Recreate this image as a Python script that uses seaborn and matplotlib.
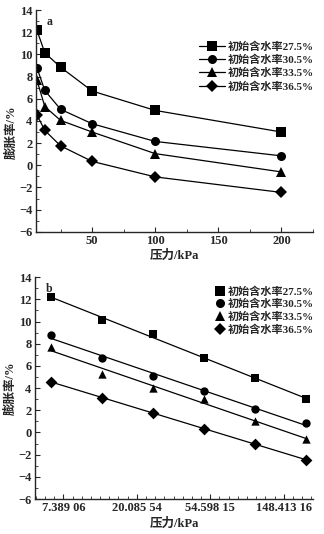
import numpy as np
import pandas as pd
import matplotlib
matplotlib.use("Agg")
import matplotlib.pyplot as plt
import matplotlib.ticker as mticker
from matplotlib.lines import Line2D
import seaborn as sns

pressure = [6.25, 12.5, 25, 50, 100, 200]
series_names = ["初始含水率27.5%", "初始含水率30.5%", "初始含水率33.5%", "初始含水率36.5%"]
swell_275 = [12.2, 10.15, 8.85, 6.7, 4.95, 3.0]
swell_305 = [8.8, 6.75, 5.05, 3.75, 2.15, 0.85]
swell_335 = [7.7, 5.3, 4.05, 3.0, 1.05, -0.6]
swell_365 = [4.55, 3.15, 1.75, 0.35, -1.05, -2.45]
log_ticks = [np.e**2, np.e**3, np.e**4, np.e**5]
log_tick_labels = ["7.389 06", "20.085 54", "54.598 15", "148.413 16"]

values = [swell_275, swell_305, swell_335, swell_365]
df = pd.DataFrame({
    "p": pressure * 4,
    "s": sum(values, []),
    "g": [n for n in series_names for _ in pressure],
})

sns.set_theme(style="ticks")
plt.rcParams["font.family"] = ["Liberation Serif", "Noto Sans CJK SC"]
plt.rcParams["font.weight"] = "bold"
plt.rcParams["axes.labelweight"] = "bold"
plt.rcParams["xtick.direction"] = "in"
plt.rcParams["ytick.direction"] = "in"
plt.rcParams["axes.linewidth"] = 1.0

markers = ["s", "o", "^", "D"]
pal = ["black"] * 4

fig = plt.figure(figsize=(3.24, 5.34), dpi=100)
ax1 = fig.add_axes([0.111, 0.566, 0.855, 0.415])
ax2 = fig.add_axes([0.108, 0.0655, 0.858, 0.4155])

fs = 9
tfs = 9

# Panel a
sns.lineplot(data=df, x="p", y="s", hue="g", style="g", markers=markers,
             dashes=False, palette=pal, ax=ax1, markersize=6.5, linewidth=0.9,
             markeredgewidth=0)
ax1.set_xlim(5.5, 225)
ax1.set_ylim(-6, 14)
ax1.set_xticks([50, 100, 150, 200])
ax1.xaxis.set_minor_locator(mticker.MultipleLocator(25))
ax1.set_yticks(range(-6, 15, 2))
ax1.yaxis.set_minor_locator(mticker.MultipleLocator(1))
ax1.set_xlabel("压力/kPa", fontsize=fs, labelpad=2)
ax1.set_ylabel("膨胀率/%", fontsize=fs)
ax1.yaxis.set_label_coords(-0.068, 0.45)
ax1.text(0.04, 0.975, "a", transform=ax1.transAxes, fontsize=8.5, fontweight="bold", va="top")
leg = ax1.legend(loc="upper right", bbox_to_anchor=(1.02, 0.88), frameon=False,
                 fontsize=8, handlelength=2.3, handletextpad=0.3, labelspacing=0.25,
                 borderaxespad=0)
for t in leg.get_texts():
    t.set_fontweight("bold")

# Panel b
for name, vals, m in zip(series_names, values, markers):
    sns.regplot(x=pressure, y=vals, logx=True, ci=None, ax=ax2, marker=m,
                color="black", scatter_kws={"s": 36, "linewidths": 0, "alpha": 1},
                line_kws={"linewidth": 0.9}, label=name)
ax2.set_xscale("log")
ax2.set_xlim(5.02, 221)
ax2.set_ylim(-6, 14)
ax2.xaxis.set_major_locator(mticker.FixedLocator(log_ticks))
ax2.xaxis.set_major_formatter(mticker.FixedFormatter(log_tick_labels))
minor = [np.exp(1.625 + 0.125 * k) for k in range(0, 32)]
ax2.xaxis.set_minor_locator(mticker.FixedLocator(minor))
ax2.xaxis.set_minor_formatter(mticker.NullFormatter())
ax2.set_yticks(range(-6, 15, 2))
ax2.yaxis.set_minor_locator(mticker.MultipleLocator(1))
ax2.set_xlabel("压力/kPa", fontsize=fs, labelpad=2)
ax2.set_ylabel("膨胀率/%", fontsize=fs)
ax2.yaxis.set_label_coords(-0.065, 0.5)
ax2.text(0.04, 0.975, "b", transform=ax2.transAxes, fontsize=8.5, fontweight="bold", va="top")
handles = [Line2D([], [], marker=m, linestyle="none", color="black", markersize=6.5,
                  markeredgewidth=0) for m in markers]
leg2 = ax2.legend(handles, series_names, loc="upper right", bbox_to_anchor=(1.02, 0.98),
                  frameon=False, fontsize=8, handlelength=0.8, handletextpad=0.3,
                  labelspacing=0.2, borderaxespad=0)
for t in leg2.get_texts():
    t.set_fontweight("bold")

for ax in (ax1, ax2):
    sns.despine(ax=ax)
    ax.tick_params(axis="both", which="major", labelsize=tfs, length=3.5, width=0.8, pad=2.5)
    ax.tick_params(axis="both", which="minor", length=2, width=0.6)
    for lab in ax.get_xticklabels() + ax.get_yticklabels():
        lab.set_fontweight("bold")

fig.savefig("out.png", dpi=100)
